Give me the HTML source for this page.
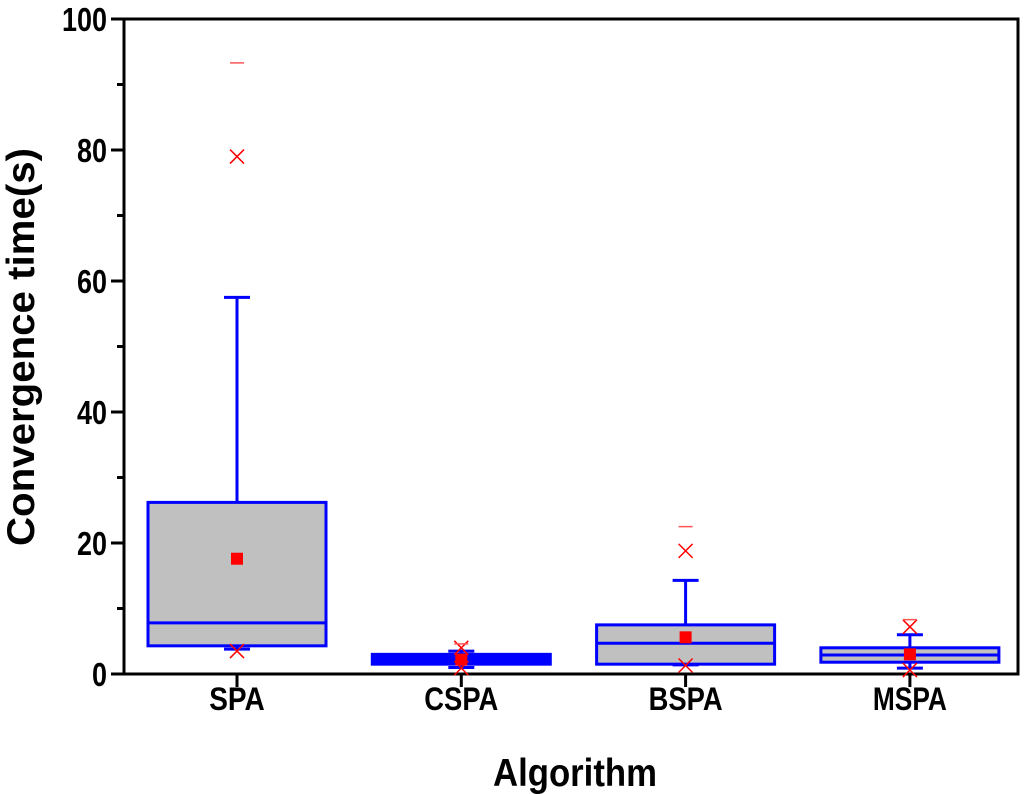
<!DOCTYPE html>
<html><head><meta charset="utf-8"><style>body{margin:0;background:#fff}svg{display:block}text{font-family:"Liberation Sans",Arial,sans-serif;font-weight:bold;fill:#000}</style></head>
<body>
<svg id="chart" width="1024" height="794" viewBox="0 0 1024 794" xmlns="http://www.w3.org/2000/svg"></svg>
<script>
const categories=["SPA","CSPA","BSPA","MSPA"];
const q1=[4.3,1.5,1.5,1.8];
const q3=[26.2,3.0,7.5,4.0];
const medians=[7.8,2.2,4.7,2.9];
const means=[17.6,2.2,5.6,3.0];
const whiskerLow=[3.8,1.0,1.4,0.9];
const whiskerHigh=[57.5,3.5,14.3,6.0];
const minX=[3.5,0.9,1.3,0.6];
const maxX=[79,4.0,18.8,7.2];
const maxDash=[93.3,4.6,22.5,8.3];
const yTicks=[0,20,40,60,80,100];
const NS="http://www.w3.org/2000/svg";
const svg=document.getElementById('chart');
const L=124,R=1018,T=19,B=674;
const y=v=>B-(v/100)*(B-T);
const x=i=>237+i*224.3;
function mk(t,a,p){const e=document.createElementNS(NS,t);for(const k in a)e.setAttribute(k,a[k]);(p||svg).appendChild(e);return e;}
const frame=mk('rect',{x:L,y:T,width:R-L,height:B-T,fill:'none',stroke:'#000','stroke-width':3});


for(let v=0;v<=100;v+=10){
  const major=v%20===0;
  const tk=mk('line',{x1:major?111:117,x2:L,y1:y(v),y2:y(v),stroke:'#000','stroke-width':3});
  
  
}
yTicks.forEach(v=>{
  const s=String(v);
  const t=mk('text',{x:107,y:y(v)+12,'text-anchor':'end','font-size':33,textLength:15*s.length,lengthAdjust:'spacingAndGlyphs'});
  t.textContent=s;
  
  
});
categories.forEach((c,i)=>{
  const cx=x(i);
  const tk=mk('line',{x1:cx,x2:cx,y1:B,y2:B+13,stroke:'#000','stroke-width':3});
  
  
  const t=mk('text',{x:cx,y:710,'text-anchor':'middle','font-size':32,textLength:c.length*18.5,lengthAdjust:'spacingAndGlyphs'});
  t.textContent=c;
  
  
  const g=mk('g',{});
  
  
  const hw=89;
  const thin=(y(q1[i])-y(q3[i]))<12;
  mk('line',{x1:cx,x2:cx,y1:y(q3[i]),y2:y(whiskerHigh[i]),stroke:'#00f','stroke-width':3},g);
  mk('line',{x1:cx,x2:cx,y1:y(q1[i]),y2:y(whiskerLow[i]),stroke:'#00f','stroke-width':3},g);
  mk('line',{x1:cx-13,x2:cx+13,y1:y(whiskerHigh[i]),y2:y(whiskerHigh[i]),stroke:'#00f','stroke-width':3},g);
  mk('line',{x1:cx-13,x2:cx+13,y1:y(whiskerLow[i]),y2:y(whiskerLow[i]),stroke:'#00f','stroke-width':3},g);
  mk('rect',{x:cx-hw,y:y(q3[i]),width:2*hw,height:y(q1[i])-y(q3[i]),fill:thin?'#00f':'#c0c0c0',stroke:'#00f','stroke-width':3},g);
  mk('line',{x1:cx-hw,x2:cx+hw,y1:y(medians[i]),y2:y(medians[i]),stroke:'#00f','stroke-width':3},g);
  mk('rect',{x:cx-6,y:y(means[i])-6,width:12,height:12,fill:'#f00'},g);
  [minX[i],maxX[i]].forEach(v=>{const yy=y(v);
    mk('path',{d:`M${cx-7} ${yy-7}L${cx+7} ${yy+7}M${cx+7} ${yy-7}L${cx-7} ${yy+7}`,stroke:'#f00','stroke-width':1.5,fill:'none'},g);});
  mk('line',{x1:cx-7,x2:cx+7,y1:y(maxDash[i]),y2:y(maxDash[i]),stroke:'#f55','stroke-width':1.5},g);
});
const yt=mk('text',{x:0,y:0,'text-anchor':'middle','font-size':39,transform:'translate(34,347) rotate(-90)',textLength:398,lengthAdjust:'spacingAndGlyphs'});
yt.textContent='Convergence time(s)';


const xt=mk('text',{x:575,y:786,'text-anchor':'middle','font-size':39,textLength:164,lengthAdjust:'spacingAndGlyphs'});
xt.textContent='Algorithm';


</script>
</body></html>
